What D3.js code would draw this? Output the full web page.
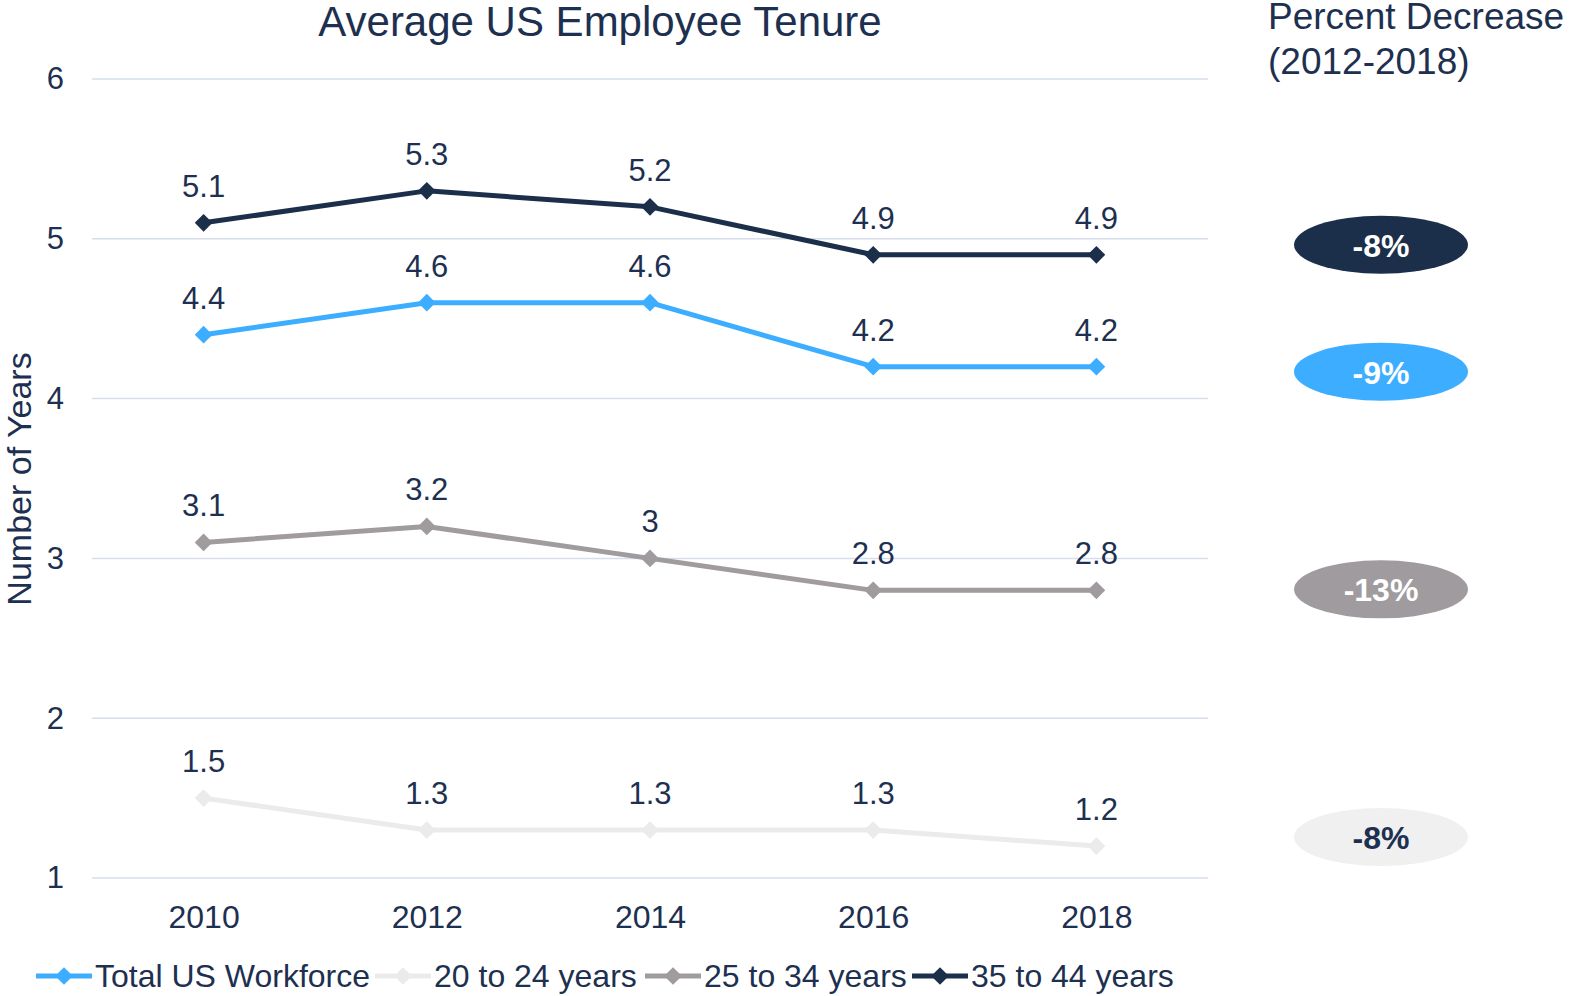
<!DOCTYPE html>
<html>
<head>
<meta charset="utf-8">
<script src="https://cdn.jsdelivr.net/npm/d3@7"></script>
<style>
  body { margin: 0; background: #fff; }
  text { font-family: "Liberation Sans", Arial, sans-serif; fill: #1e3050; }
</style>
</head>
<body>
<svg id="chart"></svg>
<script>
const [w, h] = [1569, 996];

const years = ['2010', '2012', '2014', '2016', '2018'];
const yTicks = [1, 2, 3, 4, 5, 6];
const seriesNames = ['Total US Workforce', '20 to 24 years', '25 to 34 years', '35 to 44 years'];
const seriesColors = ['#3daeff', '#ebebeb', '#9f9b9f', '#1b2f4b'];
const totalWorkforce = [4.4, 4.6, 4.6, 4.2, 4.2];
const age20to24 = [1.5, 1.3, 1.3, 1.3, 1.2];
const age25to34 = [3.1, 3.2, 3.0, 2.8, 2.8];
const age35to44 = [5.1, 5.3, 5.2, 4.9, 4.9];
const pctLabels = ['-9%', '-8%', '-13%', '-8%'];
const pctTextColors = ['#fff', '#1e3050', '#fff', '#fff'];

const allSeries = [totalWorkforce, age20to24, age25to34, age35to44];

const svg = d3.select('#chart').attr('width', w).attr('height', h);

const xScale = d3.scalePoint()
    .domain(years)
    .range([92, 1208])
    .padding(0.5);

const yScale = d3.scaleLinear()
    .domain([1, 6])
    .range([878, 79]);

// gridlines
svg.append('g')
    .selectAll('line')
    .data(yTicks)
    .enter()
    .append('line')
        .attr('x1', 92)
        .attr('x2', 1208)
        .attr('y1', d => yScale(d))
        .attr('y2', d => yScale(d))
        .attr('stroke', '#d6deee')
        .attr('stroke-width', 1.5);

// y tick labels
const yAxis = d3.axisLeft(yScale).tickValues(yTicks).tickFormat(d3.format('d')).tickSize(0).tickPadding(0);
const gy = svg.append('g').attr('transform', 'translate(64,0)').call(yAxis);
gy.select('.domain').remove();
gy.selectAll('text')
    .attr('font-size', 31)
    .attr('font-family', 'Liberation Sans, Arial, sans-serif')
    .attr('fill', '#1e3050');

// x tick labels
const xAxis = d3.axisBottom(xScale).tickSize(0).tickPadding(0);
const gx = svg.append('g').attr('transform', 'translate(0,905)').call(xAxis);
gx.select('.domain').remove();
gx.selectAll('text')
    .attr('font-size', 32)
    .attr('font-family', 'Liberation Sans, Arial, sans-serif')
    .attr('fill', '#1e3050');

// title
svg.append('text')
    .attr('x', 600)
    .attr('y', 36)
    .attr('text-anchor', 'middle')
    .attr('font-size', 42)
    .text('Average US Employee Tenure');

// y axis title
svg.append('text')
    .attr('transform', 'translate(31,479) rotate(-90)')
    .attr('text-anchor', 'middle')
    .attr('font-size', 34)
    .text('Number of Years');

// lines, markers, labels
const line = d3.line()
    .x((d, i) => xScale(years[i]))
    .y(d => yScale(d));

const diamond = d3.symbol().type(d3.symbolDiamond2).size(200);

allSeries.forEach((vals, s) => {
    const g = svg.append('g');
    g.append('path')
        .datum(vals)
        .attr('d', line)
        .attr('fill', 'none')
        .attr('stroke', seriesColors[s])
        .attr('stroke-width', 5)
        .attr('stroke-linejoin', 'round');
    g.selectAll('path.m')
        .data(vals)
        .enter()
        .append('path')
            .attr('class', 'm')
            .attr('d', diamond)
            .attr('transform', (d, i) => `translate(${xScale(years[i])},${yScale(d)})`)
            .attr('fill', seriesColors[s]);
    g.selectAll('text')
        .data(vals)
        .enter()
        .append('text')
            .attr('x', (d, i) => xScale(years[i]))
            .attr('y', d => yScale(d) - 26)
            .attr('text-anchor', 'middle')
            .attr('font-size', 31)
            .text(d => d);
});

// percent decrease panel
svg.append('text')
    .attr('x', 1268)
    .attr('y', 29)
    .attr('font-size', 37)
    .text('Percent Decrease');
svg.append('text')
    .attr('x', 1268)
    .attr('y', 74)
    .attr('font-size', 37)
    .text('(2012-2018)');

const badgeOffsets = [5, -9, -1, -10];
const badges = svg.append('g')
    .selectAll('g')
    .data(allSeries)
    .enter()
    .append('g')
        .attr('transform', (d, i) => `translate(1381,${yScale(d[d.length - 1]) + badgeOffsets[i]})`);
badges.append('ellipse')
    .attr('rx', 87)
    .attr('ry', 29)
    .attr('fill', (d, i) => i === 1 ? '#f0f0f0' : seriesColors[i]);
badges.append('text')
    .attr('y', 12)
    .attr('text-anchor', 'middle')
    .attr('font-size', 32)
    .attr('font-weight', 'bold')
    .style('fill', (d, i) => pctTextColors[i])
    .text((d, i) => pctLabels[i]);

// legend
const legendX = [36, 375, 645, 912];
const legend = svg.append('g')
    .selectAll('g')
    .data(seriesNames)
    .enter()
    .append('g')
        .attr('transform', (d, i) => `translate(${legendX[i]},976)`);
legend.append('line')
    .attr('x1', 0)
    .attr('x2', 56)
    .attr('stroke', (d, i) => seriesColors[i])
    .attr('stroke-width', 5);
legend.append('path')
    .attr('d', diamond)
    .attr('transform', 'translate(28,0)')
    .attr('fill', (d, i) => seriesColors[i]);
legend.append('text')
    .attr('x', 59)
    .attr('y', 11)
    .attr('font-size', 32)
    .text(d => d);
</script>
</body>
</html>
